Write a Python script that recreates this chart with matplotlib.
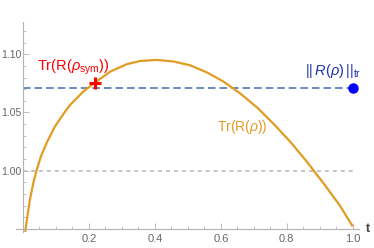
import matplotlib
matplotlib.use("Agg")
import matplotlib.pyplot as plt
from matplotlib.ticker import MultipleLocator, FixedLocator

plt.rcParams["font.family"] = ["Liberation Sans", "DejaVu Sans"]
plt.rcParams["mathtext.fontset"] = "custom"
plt.rcParams["mathtext.rm"] = "Liberation Sans"
plt.rcParams["mathtext.it"] = "Liberation Sans:italic"
plt.rcParams["mathtext.bf"] = "Liberation Sans:bold"

# values
t_vals = [0.0, 0.006, 0.013, 0.021, 0.031, 0.041, 0.054, 0.072, 0.097, 0.127,
          0.143, 0.183, 0.213, 0.264, 0.315, 0.355, 0.406, 0.456, 0.507,
          0.557, 0.608, 0.658, 0.709, 0.759, 0.810, 0.860, 0.911, 0.961, 1.0]
tr_vals = [0.925, 0.946, 0.960, 0.975, 0.989, 1.000, 1.012, 1.024, 1.038, 1.0505,
           1.0565, 1.068, 1.0745, 1.085, 1.0915, 1.0942, 1.0951, 1.0938, 1.0905,
           1.0845, 1.0765, 1.0665, 1.0545, 1.0405, 1.0250, 1.0080, 0.9893,
           0.9700, 0.952]
norm_tr = 1.071
sym_t, sym_val = 0.219, 1.075
ref_level = 1.00
x_ticks = [0.2, 0.4, 0.6, 0.8, 1.0]
y_ticks = [1.00, 1.05, 1.10]

orange = "#E19C24"
blue = "#5E81B5"
axis_gray = "#b3b3b3"
label_gray = "#666666"

fig = plt.figure(figsize=(3.74, 2.48), dpi=100)
ax = fig.add_axes([16 / 374, 16 / 248, 343 / 374, 210 / 248])
ax.set_xlim(-0.0212, 1.019)
ax.set_ylim(0.9473, 1.1277)

ax.plot([0, 1], [ref_level, ref_level], color="#c0c0c0", lw=1.3,
        dashes=(2.2, 2.2))
ax.plot([0, 1], [norm_tr, norm_tr], color=blue, lw=1.3, dashes=(4.2, 2.2))
ax.plot(t_vals, tr_vals, color=orange, lw=1.6, solid_capstyle="butt",
        solid_joinstyle="round")
ax.plot([sym_t], [sym_val], marker="+", color="red", ms=9, mew=2.2)
ax.plot([1.0], [norm_tr], marker="o", color="blue", ms=6.5)

ax.text(0.153, 1.089, r"Tr(R($\rho_{\mathrm{sym}}$))", color="red",
        fontsize=10.5, ha="center", va="center")
ax.text(0.940, 1.0855, r"$||\,R(\rho)\,||_{\mathrm{tr}}$", color="#2233aa",
        fontsize=10.5, ha="center", va="center")
ax.text(0.666, 1.0375, r"Tr(R($\rho$))", color=orange, fontsize=10,
        ha="center", va="center")
ax.text(1.046, 0.9495, "t", color="#444444", fontsize=9, fontweight="bold",
        ha="center", va="center", clip_on=False)

for side in ("top", "right"):
    ax.spines[side].set_visible(False)
ax.spines["left"].set_position(("data", 0))
ax.spines["bottom"].set_position(("data", 0.95))
for side in ("left", "bottom"):
    ax.spines[side].set_color(axis_gray)
    ax.spines[side].set_linewidth(0.8)

ax.xaxis.set_major_locator(FixedLocator(x_ticks))
ax.xaxis.set_minor_locator(MultipleLocator(0.05))
ax.yaxis.set_major_locator(FixedLocator(y_ticks))
ax.yaxis.set_minor_locator(MultipleLocator(0.01))
ax.set_xticklabels([f"{v:.1f}" for v in x_ticks])
ax.set_yticklabels([f"{v:.2f}" for v in y_ticks])
ax.tick_params(which="both", direction="in", color=axis_gray, width=0.6,
               labelsize=8, labelcolor=label_gray)
ax.tick_params(axis="y", labelsize=7.5)
ax.tick_params(which="major", length=4)
ax.tick_params(which="minor", length=2.2)
ax.tick_params(axis="x", pad=4)
ax.tick_params(axis="y", pad=1.2)

fig.savefig("out.png", dpi=100)
